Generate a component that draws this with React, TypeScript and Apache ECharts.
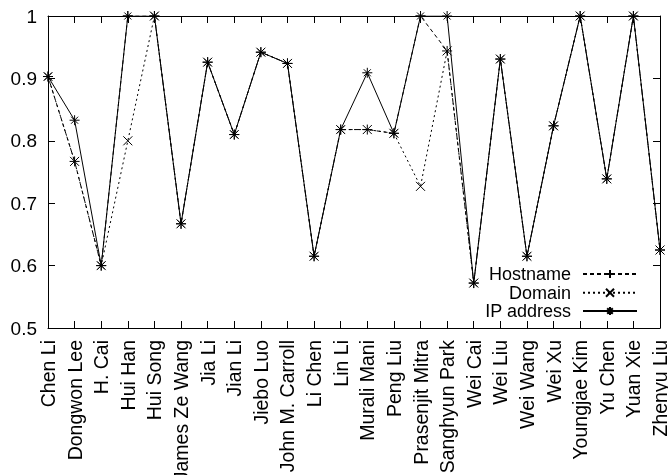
import React, { useEffect, useRef } from "react";
import * as echarts from "echarts";

const categories = [
  "Chen Li", "Dongwon Lee", "H. Cai", "Hui Han", "Hui Song", "James Ze Wang",
  "Jia Li", "Jian Li", "Jiebo Luo", "John M. Carroll", "Li Chen", "Lin Li",
  "Murali Mani", "Peng Liu", "Prasenjit Mitra", "Sanghyun Park", "Wei Cai",
  "Wei Liu", "Wei Wang", "Wei Xu", "Youngjae Kim", "Yu Chen", "Yuan Xie", "Zhenyu Liu",
];

const hostname = [0.903, 0.767, 0.6, 1, 1, 0.667, 0.926, 0.81, 0.942, 0.924, 0.615, 0.818, 0.818, 0.812, 1, 0.944, 0.572, 0.931, 0.615, 0.824, 1, 0.739, 1, 0.625];
const domain = [0.903, 0.767, 0.6, 0.8, 1, 0.667, 0.926, 0.81, 0.942, 0.924, 0.615, 0.818, 0.818, 0.812, 0.727, 0.944, 0.572, 0.931, 0.615, 0.824, 1, 0.739, 1, 0.625];
const ipAddress = [0.903, 0.833, 0.6, 1, 1, 0.667, 0.926, 0.81, 0.942, 0.924, 0.615, 0.818, 0.909, 0.812, 1, 1, 0.572, 0.931, 0.615, 0.824, 1, 0.739, 1, 0.625];

const seriesNames = ["Hostname", "Domain", "IP address"];
const yTicks = { min: 0.5, max: 1, interval: 0.1 };

const FONT = "'Liberation Sans', Arial, sans-serif";
const PLUS = "path://M0,5L10,5M5,0L5,10";
const CROSS = "path://M0,0L10,10M10,0L0,10";
const STAR = "path://M0,5L10,5M5,0L5,10M1.5,1.5L8.5,8.5M8.5,1.5L1.5,8.5";

export default function App() {
  const ref = useRef<HTMLDivElement>(null);
  useEffect(() => {
    if (!ref.current) return;
    const chart = echarts.init(ref.current, undefined, { renderer: "svg" });
    const axisLine = { show: true, lineStyle: { color: "#000", width: 1 } };
    const tick = { show: true, inside: true, length: 7, lineStyle: { color: "#000", width: 1 } };
    const mk = (name: string, data: number[], symbol: string, size: number, dash: any) => ({
      name,
      type: "line",
      data,
      symbol,
      symbolSize: size,
      showAllSymbol: true,
      lineStyle: { color: "#000", width: 1, type: dash },
      itemStyle: { color: "#000", borderColor: "#000", borderWidth: 1 },
      emphasis: { disabled: true },
    });
    const legendTops = [265, 283.7, 302];
    chart.setOption({
      animation: false,
      textStyle: { fontFamily: FONT },
      grid: { left: 48, right: 8, top: 16, bottom: 147, containLabel: false, outerBoundsMode: "none" },
      legend: seriesNames.map((n, i) => ({
        data: [n],
        orient: "vertical",
        align: "right",
        right: 30,
        top: legendTops[i],
        itemWidth: 54,
        itemHeight: 10,
        padding: 0,
        selectedMode: false,
        textStyle: { fontFamily: FONT, fontSize: 18, color: "#000", padding: [0, 7, 0, 0] },
      })),
      xAxis: [
        {
          type: "category",
          data: categories,
          boundaryGap: false,
          position: "bottom",
          axisLine,
          axisTick: { ...tick, interval: 0 },
          axisLabel: { interval: 0, rotate: 90, margin: 12, fontSize: 19.5, color: "#000", fontFamily: FONT },
        },
        {
          type: "category",
          data: categories,
          boundaryGap: false,
          position: "top",
          axisLine,
          axisTick: { ...tick, interval: 0 },
          axisLabel: { show: false },
        },
      ],
      yAxis: [
        {
          type: "value",
          min: yTicks.min,
          max: yTicks.max,
          interval: yTicks.interval,
          position: "left",
          axisLine,
          axisTick: tick,
          splitLine: { show: false },
          axisLabel: { margin: 11, fontSize: 19, color: "#000", fontFamily: FONT, formatter: (v: number) => String(Math.round(v * 10) / 10) },
        },
        {
          type: "value",
          min: yTicks.min,
          max: yTicks.max,
          interval: yTicks.interval,
          position: "right",
          axisLine,
          axisTick: tick,
          splitLine: { show: false },
          axisLabel: { show: false },
        },
      ],
      series: [
        mk(seriesNames[0], hostname, PLUS, 10, [4, 3]),
        mk(seriesNames[1], domain, CROSS, 9, [2, 3]),
        mk(seriesNames[2], ipAddress, STAR, 10, "solid"),
      ],
    });
    return () => chart.dispose();
  }, []);
  return <div ref={ref} style={{ position: "fixed", left: 0, top: 0, width: 668, height: 475 }} />;
}
